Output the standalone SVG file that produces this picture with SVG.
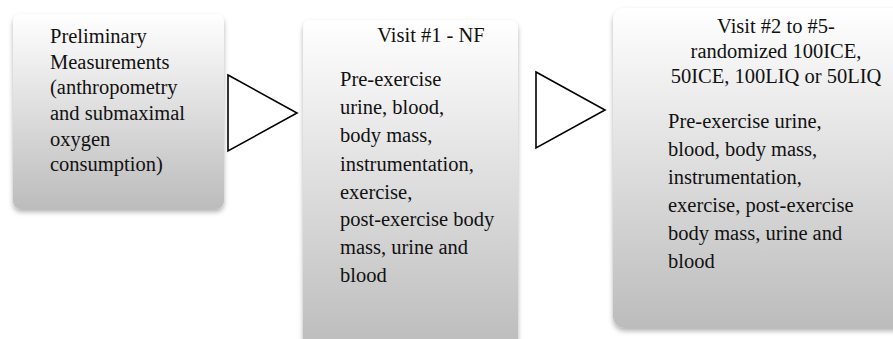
<svg xmlns="http://www.w3.org/2000/svg" width="893" height="339" viewBox="0 0 893 339">
<defs>
<linearGradient id="g" x1="0" y1="0" x2="0" y2="1">
<stop offset="0" stop-color="#ffffff"/>
<stop offset="1" stop-color="#bcbcbc"/>
</linearGradient>
<filter id="sh" x="-10%" y="-10%" width="120%" height="120%">
<feDropShadow dx="0" dy="3" stdDeviation="2.5" flood-color="#000" flood-opacity="0.3"/>
</filter>
<style>
.box{fill:url(#g);filter:url(#sh);}
.tri{fill:#fff;stroke:#000;stroke-width:1.6;stroke-linejoin:miter;}
.t{font-family:'Liberation Serif','Times New Roman',Times,serif;font-size:20.5px;fill:#111;}
.c{text-anchor:middle;}
</style>
</defs>
<rect width="893" height="339" fill="#fff"/>
<g id="connectors">
<polygon class="tri" points="228,75 297,113 228,151"/>
<polygon class="tri" points="536,72 605,110 536,148"/>
</g>
<g id="node1" class="t" font-family="Liberation Serif, serif">
<rect class="box" x="13" y="14" width="211" height="195" rx="8"/>
<text x="50" y="43">Preliminary</text>
<text x="50" y="69">Measurements</text>
<text x="50" y="94">(anthropometry</text>
<text x="50" y="120">and submaximal</text>
<text x="50" y="146">oxygen</text>
<text x="50" y="171">consumption)</text>
</g>
<g id="node2" class="t" font-family="Liberation Serif, serif">
<rect class="box" x="303" y="20" width="215" height="330" rx="8"/>
<text class="c" x="431" y="42">Visit #1 - NF</text>
<text x="340" y="86">Pre-exercise</text>
<text x="340" y="114">urine, blood,</text>
<text x="340" y="142">body mass,</text>
<text x="340" y="171">instrumentation,</text>
<text x="340" y="199">exercise,</text>
<text x="340" y="226">post-exercise body</text>
<text x="340" y="254">mass, urine and</text>
<text x="340" y="282">blood</text>
</g>
<g id="node3" class="t" font-family="Liberation Serif, serif">
<rect class="box" x="613" y="8" width="300" height="320" rx="12"/>
<text class="c" x="776" y="33">Visit #2 to #5-</text>
<text class="c" x="776" y="58">randomized 100ICE,</text>
<text class="c" x="776" y="83">50ICE, 100LIQ or 50LIQ</text>
<text x="668" y="128">Pre-exercise urine,</text>
<text x="668" y="156">blood, body mass,</text>
<text x="668" y="184">instrumentation,</text>
<text x="668" y="212">exercise, post-exercise</text>
<text x="668" y="240">body mass, urine and</text>
<text x="668" y="268">blood</text>
</g>
</svg>
